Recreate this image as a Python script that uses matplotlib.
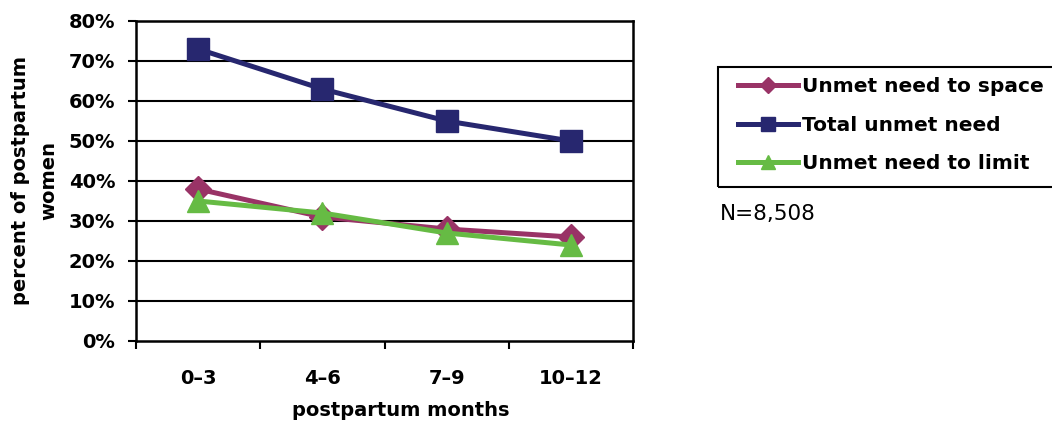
import matplotlib
matplotlib.use("Agg")
import matplotlib.pyplot as plt
from matplotlib.patches import Rectangle
import numpy as np

categories = ["0–3", "4–6", "7–9", "10–12"]
space = [38, 31, 28, 26]
total = [73, 63, 55, 50]
limit = [35, 32, 27, 24]
yticks = [0, 10, 20, 30, 40, 50, 60, 70, 80]

c_space = "#993366"
c_total = "#27276F"
c_limit = "#66BB44"

plt.rcParams['font.family'] = ['DejaVu Sans']
fig = plt.figure(figsize=(10.52, 4.29), dpi=100)
W, H = 1052, 429
ax = fig.add_axes([136 / W, 1 - 341 / H, (633 - 136) / W, (341 - 21) / H])

x = np.arange(len(categories))
ax.plot(x, space, color=c_space, lw=3.6, marker="D", ms=13, label="Unmet need to space", zorder=3)
ax.plot(x, total, color=c_total, lw=3.6, marker="s", ms=16.5, label="Total unmet need", zorder=4)
ax.plot(x, limit, color=c_limit, lw=3.6, marker="^", ms=16, label="Unmet need to limit", zorder=5)

ax.set_xlim(-0.5, 3.5)
ax.set_ylim(0, 80)
ax.set_yticks(yticks)
ax.set_yticklabels([f"{v}%" for v in yticks], fontsize=14, fontweight="bold")
ax.set_xticks(np.arange(-0.5, 4.0, 1.0))
ax.set_xticklabels([])
ax.set_xticks(x, minor=True)
ax.set_xticklabels(categories, minor=True, fontsize=14, fontweight="bold")
ax.tick_params(axis="x", which="minor", length=0, pad=20)
ax.tick_params(axis="x", which="major", length=6, width=1.5, direction="out")
ax.tick_params(axis="y", length=6, width=1.5, direction="out", pad=9)

for y in yticks[1:-1]:
    ax.axhline(y, color="black", lw=1.5, zorder=1)
for s in ax.spines.values():
    s.set_linewidth(1.8)
    s.set_color("black")

ax.set_xlabel("postpartum months", fontsize=14, fontweight="bold")
ax.xaxis.set_label_coords((401 - 136) / (633 - 136), -(410 - 341) / (341 - 21), transform=ax.transAxes)
ax.set_ylabel("percent of postpartum\nwomen", fontsize=14, fontweight="bold", linespacing=1.6)
ax.yaxis.set_label_coords(-(136 - 35) / (633 - 136), 0.5, transform=ax.transAxes)
ax.xaxis.label.set_va("center")
ax.yaxis.label.set_va("center")

# legend frame (extends past the right edge as in the original)
fig.patches.append(Rectangle((718 / W, 1 - 187 / H), (1070 - 718) / W, (187 - 67) / H,
                             transform=fig.transFigure, fill=False, edgecolor="black",
                             lw=1.5, zorder=5))
leg = fig.legend(loc="upper left", bbox_to_anchor=(738 / W, 1 - 77 / H),
                 prop={"size": 14.5, "weight": "bold"}, frameon=False,
                 handlelength=3.0, handletextpad=0.2,
                 borderpad=0, labelspacing=0.98, markerscale=0.65, borderaxespad=0)

fig.text(720 / W, 1 - 214 / H, "N=8,508", fontsize=15.5, va="center", ha="left")

fig.savefig("out.png", dpi=100, facecolor="white")
